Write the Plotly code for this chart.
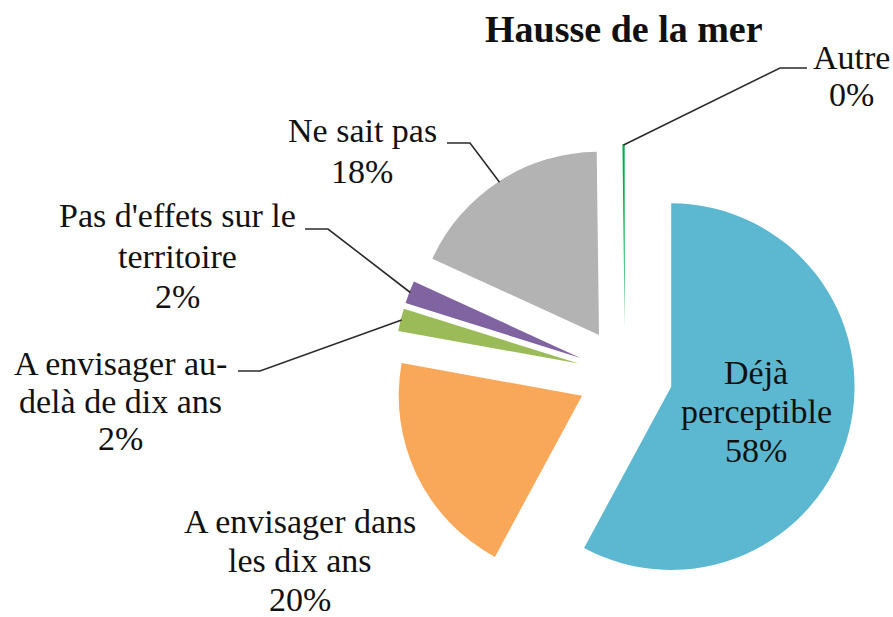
import math
import plotly.graph_objects as go

# Survey answers: perception of sea-level rise
categories = [
    "Déjà perceptible",
    "A envisager dans les dix ans",
    "A envisager au-delà de dix ans",
    "Pas d'effets sur le territoire",
    "Ne sait pas",
    "Autre",
]
values = [58, 20, 2, 2, 18, 0.2]
colors = ["#5BB8D0", "#F9A85A", "#9BBB59", "#8064A2", "#B3B3B3", "#00B050"]
label_lines = [
    ["Déjà", "perceptible"],
    ["A envisager dans", "les dix ans"],
    ["A envisager au-", "delà de dix ans"],
    ["Pas d'effets sur le", "territoire"],
    ["Ne sait pas"],
    ["Autre"],
]
title_text = "Hausse de la mer"

W, H = 893, 617
CX, CY = 625, 375      # pie centre (px)
R_OUT = 231            # radius including the pull offset (px)
PULL = 0.26
FONT = "'Liberation Serif', 'Times New Roman', Times, serif"


def fx(x):
    return x / W


def fy(y):
    return 1 - y / H


# per label: centre x, first-line y, line step, leader (start, elbow) or None
label_layout = [
    (756, 372, 39, None),
    (300, 521, 39, None),
    (120, 363, 38, ((238, 371), (260, 371))),
    (177, 216, 40, ((305, 229), (328, 229))),
    (362, 131, 40, ((447, 143), (470, 143))),
    (851, 57, 38, ((807, 68), (780, 68))),
]

total = sum(values)
pcts = [round(v / total * 100) for v in values]

fig = go.Figure(
    go.Pie(
        labels=categories,
        values=values,
        sort=False,
        direction="clockwise",
        rotation=0,
        pull=[PULL] * len(values),
        marker=dict(colors=colors, line=dict(width=0)),
        textinfo="none",
        hoverinfo="label+percent",
        showlegend=False,
        domain=dict(
            x=[fx(CX - R_OUT), fx(CX + R_OUT)],
            y=[fy(CY + R_OUT), fy(CY - R_OUT)],
        ),
    )
)

annotations = [
    dict(
        text=f"<b>{title_text}</b>",
        x=fx(624), y=fy(29), xref="paper", yref="paper",
        xanchor="center", yanchor="middle", showarrow=False,
        font=dict(family=FONT, size=38, color="#111111"),
    )
]
shapes = []

cum = 0.0
for i, v in enumerate(values):
    mid = (cum + v / 2) / total
    cum += v
    lx, ly, step, leader = label_layout[i]
    lines = label_lines[i] + [f"{pcts[i]}%"]
    for k, line in enumerate(lines):
        annotations.append(
            dict(
                text=line, x=fx(lx), y=fy(ly + k * step),
                xref="paper", yref="paper", xanchor="center", yanchor="middle",
                showarrow=False,
                font=dict(family=FONT, size=34, color="#111111"),
            )
        )
    if leader:
        theta = 2 * math.pi * mid
        tx = CX + (R_OUT - 1) * math.sin(theta)
        ty = CY - (R_OUT - 1) * math.cos(theta)
        (sx, sy), (ex, ey) = leader
        path = (
            f"M {fx(sx)} {fy(sy)} L {fx(ex)} {fy(ey)} L {fx(tx)} {fy(ty)}"
        )
        shapes.append(
            dict(type="path", path=path, xref="paper", yref="paper",
                 line=dict(color="#2b2b2b", width=1.6))
        )

fig.update_layout(
    width=W,
    height=H,
    margin=dict(l=0, r=0, t=0, b=0),
    paper_bgcolor="white",
    plot_bgcolor="white",
    annotations=annotations,
    shapes=shapes,
)

fig.write_html("out.html")
